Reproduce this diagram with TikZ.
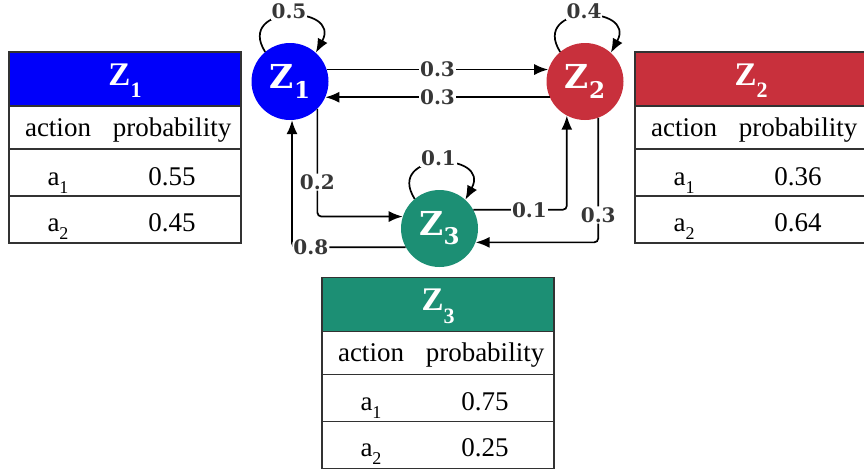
\documentclass[tikz,border=0pt]{standalone}
\usepackage{fontspec}
\setmainfont{Liberation Serif}
\newfontfamily\slabfont{DejaVu Serif}
\usetikzlibrary{arrows.meta}
\definecolor{zblue}{RGB}{0,0,250}
\definecolor{zred}{RGB}{200,48,60}
\definecolor{zgreen}{RGB}{28,143,116}
\definecolor{lblgray}{RGB}{55,55,55}
\definecolor{tline}{RGB}{50,50,50}
\newcommand\Zsub[1]{Z\raisebox{-0.28em}{\fontsize{23}{23}\selectfont #1}}
\newcommand\Tsub[1]{Z\raisebox{-0.38em}{\fontsize{22}{22}\selectfont #1}}
\newcommand\asub[1]{a\raisebox{-0.3em}{\fontsize{18}{18}\selectfont #1}}
% #1 left x, #2 top y, #3 colour, #4 id, #5 index, #6 p1, #7 p2
\newcommand\ptable[7]{%
  \fill[#3] (#1,#2) rectangle ++(232,54);
  \draw[tbl] (#1,#2) rectangle ++(232,191);
  \draw[tbl] (#1,#2+54) -- ++(232,0);
  \draw[tbl] (#1,#2+97) -- ++(232,0);
  \draw[tbl] (#1,#2+144) -- ++(232,0);
  \node[hdr] (#4h) at (#1+116,#2+33) {\Tsub{#5}};
  \node[cell] (#4ca) at (#1+49,#2+84) {action};
  \node[cell] (#4cp) at (#1+163,#2+84) {probability};
  \node[cell] (#4a1) at (#1+49,#2+133) {\asub{1}};
  \node[cell] (#4p1) at (#1+163,#2+133) {#6};
  \node[cell] (#4a2) at (#1+49,#2+179) {\asub{2}};
  \node[cell] (#4p2) at (#1+163,#2+179) {#7};
}
\begin{document}
\begin{tikzpicture}[x=1pt,y=-1pt,
  state/.style={circle, minimum size=77pt, inner sep=0pt, text=white,
    font=\slabfont\bfseries\fontsize{33}{33}\selectfont},
  lbl/.style={fill=white, inner sep=1pt, text=lblgray,
    font=\slabfont\bfseries\fontsize{20}{20}\selectfont},
  edge/.style={-{Latex[length=14pt,width=11pt]}, line width=1.7pt, black},
  tbl/.style={draw=tline, line width=1.3pt},
  hdr/.style={anchor=base, text=white, font=\bfseries\fontsize{33}{33}\selectfont},
  cell/.style={anchor=base, text=black, font=\fontsize{27}{27}\selectfont}]
\useasboundingbox (0,0) rectangle (864,469);

\ptable{9}{52}{zblue}{ta}{1}{0.55}{0.45}
\ptable{635}{52}{zred}{tb}{2}{0.36}{0.64}
\ptable{322}{277.5}{zgreen}{tc}{3}{0.75}{0.25}

\node[state, fill=zblue] (z1) at (290,81.5) {\Zsub{1}};
\node[state, fill=zred] (z2) at (585,81.5) {\Zsub{2}};
\node[state, fill=zgreen] (z3) at (439.5,228.5) {\Zsub{3}};

% self loops
\draw[edge] (z1.130) .. controls +(-30,-48) and +(26,-48) .. (z1.48)
  node[lbl, pos=0.5, yshift=5pt] (l11) {0.5};
\draw[edge] (z2.130) .. controls +(-30,-48) and +(26,-48) .. (z2.48)
  node[lbl, pos=0.5, yshift=5pt] (l22) {0.4};
\draw[edge] (z3.130) .. controls +(-30,-48) and +(26,-48) .. (z3.48)
  node[lbl, pos=0.5, yshift=5pt] (l33) {0.1};

% straight
\draw[edge] (z1.18) -- (z2.162) node[lbl, midway] (l12) {0.3};
\draw[edge] (z2.-156) -- (z1.-24) node[lbl, midway] (l21) {0.3};

% elbows
\draw[edge, rounded corners=4pt] (z1.-45) |- (z3.162) node[lbl, pos=0.34] (l13) {0.2};
\draw[edge, rounded corners=4pt] (z3.-151) -| (z1.-87) node[lbl, pos=0.417] (l31) {0.8};
\draw[edge, rounded corners=4pt] (z3.29) -| (z2.-118) node[lbl, pos=0.30] (l32) {0.1};
\draw[edge, rounded corners=4pt] (z2.-70) |- (z3.-21) node[lbl, pos=0.39] (l23) {0.3};
\end{tikzpicture}
\end{document}
